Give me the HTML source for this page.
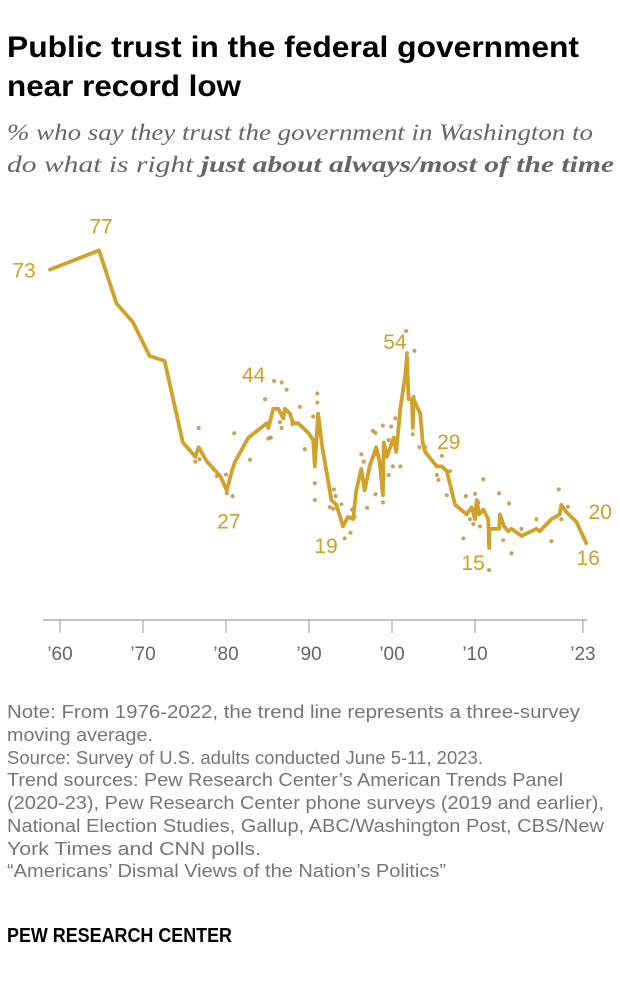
<!DOCTYPE html>
<html><head><meta charset="utf-8"><style>
html,body{margin:0;padding:0;background:#fff;width:620px;height:986px;overflow:hidden}
svg{display:block}
.t{font-family:"Liberation Sans Narrow","Liberation Sans",sans-serif;font-weight:bold;fill:#000}
.s{font-family:"Liberation Serif",serif;font-style:italic;fill:#666;font-size:23px}
.n{font-family:"Liberation Sans Narrow","Liberation Sans",sans-serif;fill:#767676;font-size:18px}
.lab{font-family:"Liberation Sans",sans-serif;fill:#cfa026;font-size:21px}
.tk{font-family:"Liberation Sans",sans-serif;fill:#666;font-size:19px}
</style></head><body>
<svg id="chart" width="620" height="986" viewBox="0 0 620 986">
<text class="t" x="7" y="57" font-size="30" textLength="572" lengthAdjust="spacingAndGlyphs">Public trust in the federal government</text>
<text class="t" x="7" y="96" font-size="30" textLength="234" lengthAdjust="spacingAndGlyphs">near record low</text>
<text class="s" x="7" y="140" textLength="586" lengthAdjust="spacingAndGlyphs">% who say they trust the government in Washington to</text>
<text class="s" x="7" y="172" textLength="607" lengthAdjust="spacingAndGlyphs">do what is right <tspan font-weight="bold">just about always/most of the time</tspan></text>

<g id="axis"></g>
<g id="dots"></g>
<g id="line"></g>
<g id="labels"></g>

<text class="n" x="7" y="718" textLength="573" lengthAdjust="spacingAndGlyphs">Note: From 1976-2022, the trend line represents a three-survey</text>
<text class="n" x="7" y="741" textLength="146" lengthAdjust="spacingAndGlyphs">moving average.</text>
<text class="n" x="7" y="764" textLength="476" lengthAdjust="spacingAndGlyphs">Source: Survey of U.S. adults conducted June 5-11, 2023.</text>
<text class="n" x="7" y="786" textLength="556" lengthAdjust="spacingAndGlyphs">Trend sources: Pew Research Center’s American Trends Panel</text>
<text class="n" x="7" y="809" textLength="597" lengthAdjust="spacingAndGlyphs">(2020-23), Pew Research Center phone surveys (2019 and earlier),</text>
<text class="n" x="7" y="832" textLength="597" lengthAdjust="spacingAndGlyphs">National Election Studies, Gallup, ABC/Washington Post, CBS/New</text>
<text class="n" x="7" y="855" textLength="254" lengthAdjust="spacingAndGlyphs">York Times and CNN polls.</text>
<text class="n" x="7" y="877" textLength="439" lengthAdjust="spacingAndGlyphs">“Americans’ Dismal Views of the Nation’s Politics”</text>
<text class="t" x="7" y="942" font-size="20" textLength="225" lengthAdjust="spacingAndGlyphs">PEW RESEARCH CENTER</text>
</svg>
<script>
const lineYears=[1958.8,1964.7,1966.8,1968.8,1970.8,1972.6,1974.8,1976.3,1976.7,1977.7,1979.3,1980.1,1980.7,1981.1,1982.7,1984.9,1985.1,1985.7,1986.3,1986.9,1987.1,1987.7,1988.1,1988.7,1989.3,1989.9,1990.5,1990.7,1991.1,1991.6,1992.7,1993.3,1994.1,1994.7,1995.3,1995.7,1996.3,1996.7,1997.3,1998.1,1998.5,1998.9,1999.0,1999.4,1999.8,2000.2,2000.5,2001.0,2001.6,2001.8,2002.0,2002.4,2002.5,2002.6,2003.4,2003.7,2004.0,2005.4,2006.0,2006.6,2007.6,2009.0,2009.6,2010.0,2010.2,2010.5,2011.0,2011.6,2011.7,2011.75,2012.9,2013.0,2013.5,2014.0,2014.4,2015.6,2017.4,2017.8,2019.2,2020.2,2020.4,2021.0,2022.2,2023.4];
const lineValues=[73,77,66,62,55,54,37,34,36,33,30,27,31,33,38,41,40,44,44,42,44,43,41,41,40,39,37.5,32,43,36,25,24,19.5,21.5,21,27,31.5,27,32,36,33,26,37,34,36,38,35,44,51,55,46,46,40,46,43,37,35,32,32,31,24,22,23.5,21,25,22,23,21,15,19,19,22,19.5,18.5,19,17.5,19,18.5,21,22,24,22.5,20.5,16];
const dotYears=[1976.7,1976.3,1976.8,1978.9,1980,1980.1,1980.8,1981,1982.9,1984.7,1985.8,1986.7,1987.3,1985.1,1985.4,1986.5,1986.7,1988,1988.9,1989.5,1990.5,1990.7,1990.7,1991,1991,1992.5,1992.9,1993,1993.2,1993.4,1993.9,1994.3,1995,1995.2,1995.5,1996.3,1996.6,1997,1997.3,1997.7,1998,1998,1998,1998.9,1998.9,1999.2,1999.6,1999.6,1999.9,2000.1,2000.4,2001,2001.7,2001.8,2002.7,2002.5,2002.6,2003.3,2004,2005.4,2005.6,2006,2006.6,2007,2008.6,2008.9,2009.4,2009.8,2010,2010.4,2010.6,2011,2011.7,2012.9,2013.4,2014.1,2014.4,2015.6,2017.4,2019.2,2020.1,2020.4,2021.2];
const dotValues=[40,33,33.5,30,30.3,26.4,25.8,38.9,33.4,46,49.8,49.5,48,37.8,38,41.2,40,40.8,44.4,35.6,42.4,28.5,25,47.2,45.3,23.5,23.2,27.2,25.8,23.2,24.1,17,18.2,23,21.5,34.5,33,23.4,31.5,39.4,39,34.5,26.2,24.5,40.5,35,30.2,37.5,40.3,32,42,32,60.2,55.6,56.1,38.7,46.5,36,36,30.2,29.2,34.2,26,31,17,25.8,21,20,26.3,24.5,19.5,29.3,10.4,26.4,16.6,24.3,13.9,19,21,16.4,27.2,21,23.6];
const tickYears=[1960,1970,1980,1990,2000,2010,2023];
const tickLabels=["’60","’70","’80","’90","’00","’10","’23"];
const labelYears=[1958.8,1964.7,1985.5,1980.1,1994.1,2001.8,2006,2011.7,2023.4,2023.4];
const labelValues=[73,77,44,27,19,54,29,15,20,16];
const labelText=["73","77","44","27","19","54","29","15","20","16"];
const NS="http://www.w3.org/2000/svg";
function xs(y){return 60+(y-1960)*8.3;}
function ys(v){return 620-v*4.8;}
function mk(tag,attrs,parent){const e=document.createElementNS(NS,tag);for(const k in attrs)e.setAttribute(k,attrs[k]);parent.appendChild(e);return e;}
const ax=document.getElementById('axis');
const base=mk('line',{x1:43,x2:587,y1:620,y2:620,stroke:'#888','stroke-width':1},ax);


tickYears.forEach((t,i)=>{
  const l=mk('line',{x1:xs(t),x2:xs(t),y1:620,y2:633,stroke:'#999','stroke-width':1},ax);
  
  
  const tx=mk('text',{x:xs(t),y:660,'text-anchor':'middle',class:'tk'},ax);
  tx.textContent=tickLabels[i];
  
  
});
const dg=document.getElementById('dots');
dotYears.forEach((y,i)=>{
  const c=mk('circle',{cx:xs(y),cy:ys(dotValues[i]),r:2.1,fill:'#b8862a','fill-opacity':0.75},dg);
  
  
});
const lg=document.getElementById('line');
const p=mk('polyline',{points:lineYears.map((y,i)=>xs(y).toFixed(1)+','+ys(lineValues[i]).toFixed(1)).join(' '),fill:'none',stroke:'#d1a22a','stroke-width':3.8,'stroke-linejoin':'round','stroke-linecap':'round'},lg);


const lbg=document.getElementById('labels');
const offs=[[-26,8],[2,-17],[-18,-27],[2,38],[-17,24],[-12,-12],[7,-32],[-16,22],[14,-5],[2,22]];
labelText.forEach((s,i)=>{
  const t=mk('text',{x:xs(labelYears[i])+offs[i][0],y:ys(labelValues[i])+offs[i][1],'text-anchor':'middle',class:'lab'},lbg);
  t.textContent=s;
  
  
});
</script>
</body></html>
